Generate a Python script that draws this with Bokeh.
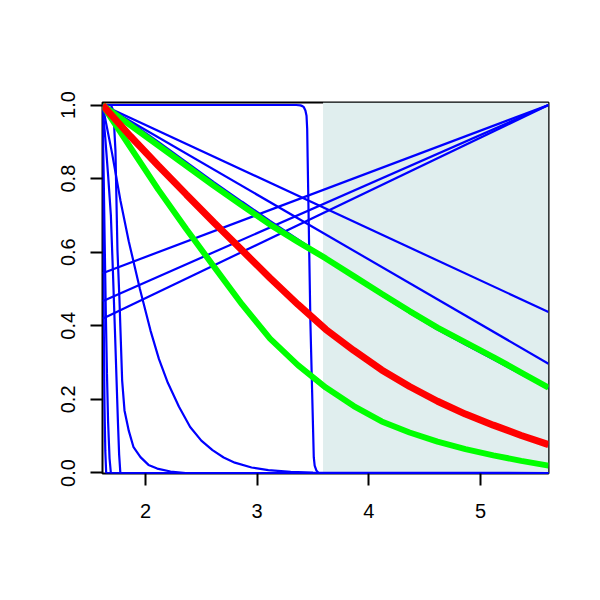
from bokeh.plotting import figure
from bokeh.embed import file_html
from bokeh.resources import INLINE
from bokeh.models import Range1d, FixedTicker, BoxAnnotation

# ---- data ----
x_lo, x_hi = 1.615, 5.609
shade_start = 3.59

x_ticks = [2, 3, 4, 5]
x_tick_labels = ["2", "3", "4", "5"]
y_ticks = [0.0, 0.2, 0.4, 0.6, 0.8, 1.0]
y_tick_labels = ["0.0", "0.2", "0.4", "0.6", "0.8", "1.0"]

# rising straight lines
rise_x = [1.615, 5.609]
rise_1 = [0.543, 1.0]
rise_2 = [0.467, 1.0]
rise_3 = [0.419, 1.0]

# falling straight lines
fall_x = [1.615, 5.609]
fall_1 = [1.0, 0.4375]
fall_2 = [1.0, 0.297]

# smooth curves, common grid (step 0.25)
grid_x = [1.615, 1.865, 2.115, 2.365, 2.615, 2.865, 3.115, 3.365, 3.615,
          3.865, 4.115, 4.365, 4.615, 4.865, 5.115, 5.365, 5.609]
green_up = [1.0, 0.945, 0.89, 0.835, 0.78, 0.727, 0.675, 0.628, 0.583,
            0.535, 0.487, 0.44, 0.395, 0.355, 0.315, 0.273, 0.232]
blue_up = [1.0, 0.953, 0.9, 0.845, 0.79, 0.737, 0.685, 0.635, 0.585,
           0.533, 0.483, 0.435, 0.39, 0.349, 0.309, 0.268, 0.23]
red_mid = [1.0, 0.915, 0.835, 0.757, 0.68, 0.605, 0.53, 0.458, 0.39,
           0.333, 0.28, 0.235, 0.195, 0.16, 0.13, 0.102, 0.077]
green_low = [1.0, 0.885, 0.77, 0.663, 0.56, 0.458, 0.365, 0.293, 0.232,
             0.182, 0.14, 0.11, 0.085, 0.065, 0.048, 0.033, 0.02]

# steep blue curves on the left
steep_a_x = [1.615, 1.618, 1.622, 1.627, 1.633, 1.64, 1.648, 5.609]
steep_a_y = [1.0, 0.85, 0.6, 0.38, 0.18, 0.06, 0.0, 0.0]
steep_b_x = [1.615, 1.625, 1.635, 1.645, 1.655, 1.665, 1.678, 1.69, 5.609]
steep_b_y = [1.0, 0.82, 0.62, 0.43, 0.27, 0.14, 0.04, 0.0, 0.0]
steep_c_x = [1.615, 1.64, 1.665, 1.69, 1.708, 1.726, 1.74, 1.753, 1.764, 1.775, 5.609]
steep_c_y = [1.0, 0.91, 0.81, 0.7, 0.55, 0.39, 0.26, 0.14, 0.05, 0.0, 0.0]
steep_d_x = [1.615, 1.69, 1.705, 1.718, 1.731, 1.749, 1.767, 1.776, 1.791,
             1.812, 1.836, 1.85, 1.893, 1.955, 2.027, 2.105, 2.224, 2.36, 5.609]
steep_d_y = [1.0, 1.0, 0.99, 0.95, 0.876, 0.605, 0.47, 0.387, 0.251,
             0.17, 0.135, 0.115, 0.07, 0.043, 0.022, 0.012, 0.004, 0.0, 0.0]
exp_x = [1.615, 1.7, 1.776, 1.85, 1.95, 2.045, 2.12, 2.2, 2.3, 2.4, 2.5,
         2.6, 2.7, 2.8, 2.95, 3.1, 3.3, 3.5, 5.609]
exp_y = [1.0, 0.87, 0.74, 0.63, 0.5, 0.387, 0.31, 0.245, 0.18, 0.125, 0.088,
         0.062, 0.042, 0.028, 0.015, 0.008, 0.003, 0.001, 0.0]
step_x = [1.615, 3.35, 3.388, 3.405, 3.418, 3.432, 3.442, 3.448, 3.452,
          3.462, 3.477, 3.492, 3.507, 3.515, 3.53, 3.549, 5.609]
step_y = [1.0, 1.0, 0.999, 0.997, 0.994, 0.985, 0.971, 0.935, 0.858,
          0.678, 0.406, 0.224, 0.043, 0.02, 0.007, 0.0, 0.0]

BLUE = "#0000FF"
RED = "#FF0000"
GREEN = "#00FF00"

p = figure(width=592, height=592,
           x_range=Range1d(x_lo, x_hi), y_range=Range1d(-0.0014, 1.0068),
           output_backend="svg", toolbar_location=None,
           min_border_left=102, min_border_right=44,
           min_border_top=102, min_border_bottom=119)
p.background_fill_color = "white"
p.border_fill_color = "white"
p.xgrid.visible = False
p.ygrid.visible = False
p.outline_line_color = "black"
p.outline_line_width = 2

shade = BoxAnnotation(left=shade_start, fill_color="#E0EEEE", fill_alpha=1.0,
                      line_color=None, level="underlay")
p.add_layout(shade)

for ys in (rise_1, rise_2, rise_3):
    p.line(rise_x, ys, line_color=BLUE, line_width=2.2)
for ys in (fall_1, fall_2):
    p.line(fall_x, ys, line_color=BLUE, line_width=2.2)
p.line(grid_x, blue_up, line_color=BLUE, line_width=2.2)
for xs, ys in ((steep_a_x, steep_a_y), (steep_b_x, steep_b_y),
               (steep_c_x, steep_c_y), (steep_d_x, steep_d_y),
               (exp_x, exp_y), (step_x, step_y)):
    p.line(xs, ys, line_color=BLUE, line_width=2.2)

p.line(grid_x, green_up, line_color=GREEN, line_width=6)
p.line(grid_x, green_low, line_color=GREEN, line_width=6)
p.line(grid_x, red_mid, line_color=RED, line_width=7)

for ax in (p.xaxis[0], p.yaxis[0]):
    ax.axis_line_color = None
    ax.major_tick_line_color = "black"
    ax.major_tick_line_width = 2
    ax.major_tick_out = 12
    ax.major_tick_in = 0
    ax.minor_tick_line_color = None
    ax.major_label_text_font = "Liberation Sans"
    ax.major_label_text_font_size = "20px"
    ax.major_label_text_color = "black"

p.xaxis[0].ticker = FixedTicker(ticks=x_ticks)
p.xaxis[0].major_label_overrides = {t: l for t, l in zip(x_ticks, x_tick_labels)}
p.xaxis[0].major_label_standoff = 18
p.yaxis[0].ticker = FixedTicker(ticks=y_ticks)
p.yaxis[0].major_label_overrides = {t: l for t, l in zip(y_ticks, y_tick_labels)}
p.yaxis[0].major_label_orientation = "vertical"
p.yaxis[0].major_label_standoff = 15

open("out.html", "w").write(file_html(p, INLINE))
